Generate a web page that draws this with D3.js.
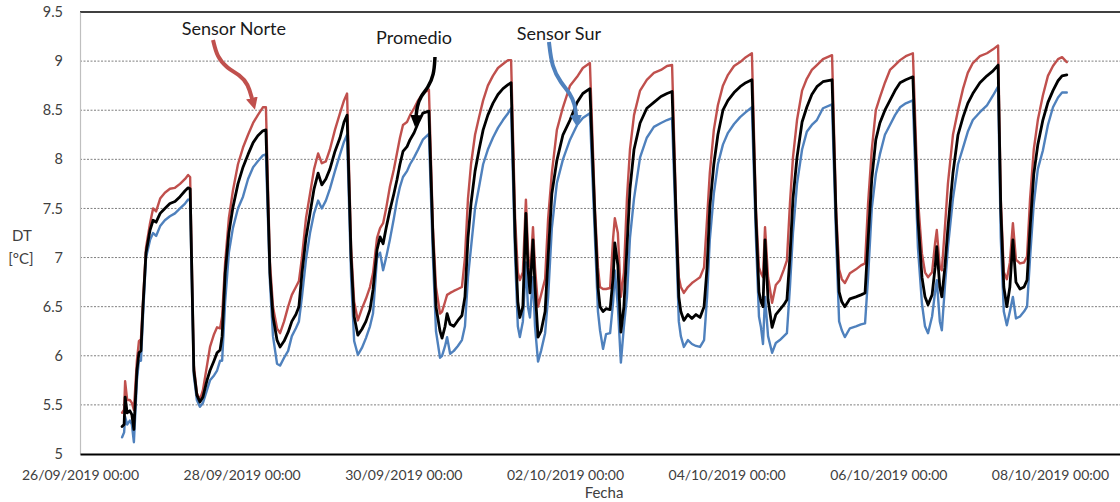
<!DOCTYPE html>
<html><head><meta charset="utf-8">
<script src="https://cdn.jsdelivr.net/npm/d3@7"></script>
<style>
html,body{margin:0;padding:0;background:#fff;}
svg{display:block;font-family:Lato,"Open Sans",sans-serif;}
</style></head><body>
<svg id="chart" width="1120" height="502"></svg>
<script>
// hours since 26/09/2019 00:00
const hours = [
12.5,13.1,13.4,14.0,14.8,15.4,16.0,16.9,17.5,18.1,18.7,19.6,20.8,21.7,22.6,23.8,25.2,26.7,28.2,29.7,31.2,32.1,32.7,
33.8,34.7,35.6,36.5,37.7,38.6,39.8,40.7,41.6,42.2,43.1,44.2,45.4,46.9,48.4,49.9,51.4,52.8,54.3,55.2,
56.4,57.3,58.5,59.4,60.6,61.8,62.9,64.1,65.0,65.9,67.1,68.3,69.5,70.7,71.8,73.0,74.2,75.7,77.2,78.4,79.3,
80.5,81.4,82.5,83.7,84.9,86.1,87.0,88.2,89.1,90.0,90.9,92.0,93.2,94.1,95.0,95.9,97.1,98.0,99.2,100.4,101.8,103.6,
104.8,105.7,106.9,107.5,108.4,109.0,109.9,111.0,112.2,113.4,114.3,115.2,116.1,117.3,118.5,119.7,121.1,122.6,124.1,125.6,127.1,128.0,
129.2,130.0,130.6,131.5,132.4,133.0,133.6,134.5,135.1,136.0,136.9,138.1,139.0,140.1,141.6,143.4,145.5,147.6,149.3,151.4,
152.9,153.8,154.4,155.3,156.2,157.4,158.3,158.8,159.7,160.6,161.5,162.4,163.3,164.5,166.3,168.3,170.4,172.5,174.3,175.8,
177.0,177.8,178.4,179.3,180.5,181.7,182.9,184.1,185.3,186.2,187.0,188.2,189.4,190.9,192.4,194.2,196.0,197.7,199.5,
200.7,201.6,202.2,202.8,203.4,204.3,205.5,206.6,207.8,209.0,209.9,210.8,211.7,212.9,214.4,215.8,217.3,218.8,220.6,223.3,
224.5,225.4,226.2,227.1,228.6,230.4,231.9,233.1,234.0,235.1,236.3,237.5,239.0,240.5,242.0,243.5,245.2,247.3,
248.8,250.0,250.9,251.8,253.0,253.9,254.4,255.3,255.9,256.8,257.7,259.2,260.7,262.2,263.6,265.1,267.2,269.3,271.1,272.6,
273.4,274.3,275.2,276.1,277.0,277.9,279.1,280.3,281.2,282.1,283.2,284.4,285.9,287.4,288.9,290.4,291.6,293.0
];
const norte = [
5.42,5.45,5.74,5.55,5.55,5.52,5.45,5.95,6.15,6.17,6.55,7.10,7.35,7.50,7.47,7.60,7.66,7.70,7.71,7.75,7.80,7.84,7.82,
5.90,5.62,5.55,5.65,5.90,6.09,6.22,6.29,6.28,6.40,6.95,7.40,7.68,7.95,8.12,8.25,8.37,8.45,8.53,8.53,
6.95,6.50,6.28,6.23,6.35,6.50,6.62,6.70,6.76,7.00,7.40,7.65,7.90,8.06,7.96,7.98,8.10,8.30,8.47,8.60,8.67,
7.10,6.55,6.36,6.48,6.58,6.70,6.84,7.20,7.30,7.35,7.50,7.72,7.90,8.06,8.22,8.35,8.38,8.45,8.52,8.60,8.67,8.71,
7.30,6.70,6.43,6.45,6.55,6.62,6.64,6.66,6.68,6.70,7.00,7.60,7.95,8.25,8.43,8.60,8.75,8.85,8.93,8.97,9.01,9.01,
7.40,6.85,6.77,6.85,7.59,7.10,6.77,7.31,6.90,6.50,6.62,6.78,7.40,7.86,8.30,8.53,8.75,8.84,8.93,8.98,
7.50,6.90,6.70,6.68,6.68,6.69,7.20,7.40,7.25,6.60,6.85,7.60,8.10,8.45,8.70,8.81,8.88,8.91,8.95,8.96,
7.50,6.80,6.70,6.64,6.70,6.74,6.77,6.80,6.90,7.40,7.86,8.30,8.55,8.75,8.86,8.95,8.99,9.04,9.08,
7.50,6.90,6.84,6.80,7.31,6.80,6.54,6.72,6.77,6.88,6.97,7.55,8.02,8.40,8.70,8.82,8.91,8.96,9.02,9.06,
7.50,6.88,6.78,6.74,6.84,6.88,6.92,6.94,7.55,8.10,8.50,8.63,8.78,8.91,8.96,9.01,9.05,9.08,
7.60,7.04,6.85,6.80,6.85,7.15,7.28,6.90,6.87,7.30,7.75,8.25,8.50,8.72,8.88,8.98,9.05,9.08,9.12,9.16,
7.60,6.85,6.78,6.95,7.35,6.98,6.94,6.95,7.01,7.60,8.10,8.40,8.65,8.85,8.95,9.02,9.04,8.99
];
const promedio = [
5.28,5.30,5.58,5.42,5.44,5.40,5.25,5.85,6.03,6.05,6.50,7.05,7.28,7.38,7.36,7.45,7.50,7.55,7.57,7.62,7.68,7.71,7.70,
5.85,5.60,5.53,5.58,5.75,5.85,5.95,6.03,6.06,6.20,6.84,7.25,7.51,7.75,7.92,8.05,8.17,8.24,8.29,8.30,
6.84,6.40,6.16,6.09,6.15,6.24,6.35,6.42,6.50,6.84,7.20,7.45,7.70,7.86,7.74,7.80,7.90,8.08,8.22,8.38,8.45,
7.00,6.40,6.21,6.27,6.35,6.47,6.67,7.08,7.21,7.14,7.30,7.48,7.65,7.79,7.95,8.08,8.13,8.20,8.27,8.37,8.47,8.49,
7.20,6.50,6.25,6.18,6.30,6.43,6.32,6.30,6.36,6.41,6.60,7.20,7.55,7.88,8.10,8.30,8.45,8.57,8.66,8.72,8.76,8.78,
7.20,6.55,6.39,6.50,7.45,6.90,6.64,7.18,6.70,6.19,6.25,6.45,7.01,7.65,7.99,8.25,8.40,8.58,8.67,8.72,
7.40,6.70,6.50,6.45,6.48,6.47,6.80,7.15,6.92,6.24,6.50,7.10,7.70,8.10,8.37,8.52,8.58,8.64,8.67,8.69,
7.40,6.60,6.45,6.36,6.42,6.38,6.42,6.39,6.50,6.90,7.51,7.95,8.25,8.50,8.60,8.68,8.74,8.78,8.81,
7.40,6.65,6.55,6.50,7.18,6.57,6.29,6.42,6.47,6.52,6.57,7.01,7.60,8.02,8.38,8.53,8.66,8.74,8.79,8.81,
7.40,6.65,6.55,6.50,6.58,6.60,6.62,6.64,7.18,7.80,8.20,8.37,8.50,8.60,8.70,8.78,8.81,8.84,
7.40,6.80,6.60,6.52,6.62,6.90,7.11,6.70,6.60,6.90,7.30,7.86,8.25,8.43,8.57,8.67,8.78,8.85,8.90,8.96,
7.50,6.70,6.50,6.70,7.18,6.75,6.68,6.70,6.77,7.30,7.85,8.15,8.40,8.58,8.70,8.80,8.85,8.86
];
const sur = [
5.17,5.22,5.38,5.30,5.34,5.30,5.12,5.75,5.95,5.95,6.40,7.00,7.18,7.25,7.22,7.32,7.38,7.42,7.45,7.50,7.55,7.59,7.58,
5.80,5.55,5.48,5.52,5.65,5.75,5.80,5.85,5.95,5.95,6.55,7.05,7.30,7.50,7.62,7.80,7.92,7.98,8.04,8.05,
6.75,6.20,5.92,5.90,5.98,6.05,6.20,6.28,6.35,6.60,6.98,7.25,7.45,7.58,7.50,7.58,7.70,7.88,8.05,8.18,8.25,
6.80,6.15,6.01,6.08,6.18,6.30,6.43,7.00,7.05,6.87,7.00,7.18,7.40,7.58,7.72,7.82,7.88,7.95,8.02,8.10,8.20,8.26,
7.00,6.25,5.98,6.00,6.10,6.19,6.02,6.05,6.10,6.16,6.30,6.80,7.10,7.50,7.72,7.95,8.10,8.22,8.32,8.40,8.47,8.52,
7.00,6.30,6.19,6.35,6.95,6.50,6.39,6.80,6.30,5.94,6.05,6.23,6.60,7.30,7.76,8.00,8.20,8.35,8.42,8.47,
7.20,6.45,6.26,6.07,6.22,6.23,6.55,6.87,6.50,5.93,6.30,6.60,7.20,7.60,8.02,8.22,8.33,8.37,8.40,8.42,
7.20,6.35,6.20,6.09,6.16,6.12,6.10,6.09,6.16,6.60,7.18,7.65,7.95,8.15,8.27,8.36,8.43,8.48,8.53,
7.20,6.40,6.29,6.12,6.60,6.20,6.03,6.13,6.16,6.20,6.23,6.70,7.25,7.75,8.10,8.28,8.35,8.40,8.52,8.56,
7.20,6.35,6.26,6.19,6.28,6.30,6.32,6.33,6.80,7.50,7.85,8.05,8.25,8.35,8.45,8.53,8.57,8.60,
7.10,6.53,6.30,6.23,6.40,6.65,6.77,6.35,6.26,6.70,7.10,7.60,7.95,8.12,8.28,8.40,8.48,8.55,8.65,8.74,
7.20,6.45,6.31,6.45,6.60,6.38,6.40,6.45,6.50,7.00,7.55,7.90,8.09,8.35,8.53,8.63,8.68,8.68
];
const xTickDates = ["2019-09-26","2019-09-28","2019-09-30","2019-10-02","2019-10-04","2019-10-06","2019-10-08"];
const yTickValues = [5,5.5,6,6.5,7,7.5,8,8.5,9,9.5];
const xDomain = ["2019-09-26T00:00:00Z","2019-10-08T20:48:00Z"];
const yDomain = [5, 9.5];

// annotations (positions in data units: hours, °C)
const annotations = [
  {label:"Sensor Norte", color:"#C0504D", width:4, text:[45.7,9.266],
   path:[[39.5,9.215],[40.7,9.042],[43.6,8.930],[47.5,8.858],[49.9,8.767],[51.1,8.614]]},
  {label:"Promedio", color:"#000000", width:3.5, text:[99.2,9.174],
   path:[[105.4,9.042],[105.1,8.858],[103.3,8.726],[101.2,8.645],[100.1,8.543],[99.8,8.441]]},
  {label:"Sensor Sur", color:"#4F81BD", width:4, text:[142.2,9.215],
   path:[[139.25,9.195],[140.1,8.940],[142.8,8.777],[145.5,8.675],[147.0,8.553],[147.3,8.441]]}
];

(function(){
const t0 = Date.UTC(2019,8,26,0,0);
const toDate = h => new Date(t0 + h*3600e3);

const svg = d3.select("#chart");
const mLeft = 80, mRight = 1120, mTop = 12, mBottom = 454;
const x = d3.scaleUtc().domain(xDomain.map(d=>new Date(d))).range([mLeft,mRight]);
const y = d3.scaleLinear().domain(yDomain).range([mBottom,mTop]);

// gridlines
svg.append("g").selectAll("line").data(yTickValues.filter(v=>v>5 && v<9.5)).join("line")
  .attr("x1",mLeft).attr("x2",mRight).attr("y1",d=>y(d)).attr("y2",d=>y(d))
  .attr("stroke","#7f7f7f").attr("stroke-width",1).attr("stroke-dasharray","2,1.5");
// top line (9.5)
svg.append("line").attr("x1",mLeft).attr("x2",mRight).attr("y1",y(9.5)).attr("y2",y(9.5))
  .attr("stroke","#000").attr("stroke-width",1.4);

// y axis
const yAxis = d3.axisLeft(y).tickValues(yTickValues).tickSize(0).tickPadding(17).tickFormat(d3.format(""));
const gy = svg.append("g").attr("transform",`translate(${mLeft},0)`).call(yAxis);
gy.select(".domain").attr("stroke","#bfbfbf").attr("stroke-width",1.2);
gy.selectAll("text").attr("font-size",14.5).attr("fill","#404040").attr("font-family","Lato");

// x axis
const xAxis = d3.axisBottom(x).tickValues(xTickDates.map(d=>new Date(d+"T00:00:00Z")))
  .tickSize(0).tickPadding(16).tickFormat(d3.utcFormat("%d/%m/%Y %H:%M"));
const gx = svg.append("g").attr("transform",`translate(0,${mBottom})`).call(xAxis);
gx.select(".domain").attr("stroke","#000").attr("stroke-width",2);
gx.selectAll("text").attr("font-size",14).attr("fill","#404040").attr("font-family","Lato");

// axis titles
svg.append("text").attr("x",22).attr("y",241).attr("text-anchor","middle")
  .attr("font-size",15).attr("fill","#404040").text("DT");
svg.append("text").attr("x",21).attr("y",264).attr("text-anchor","middle")
  .attr("font-size",15).attr("fill","#404040").text("[°C]");
svg.append("text").attr("x",604).attr("y",498).attr("text-anchor","middle")
  .attr("font-size",15).attr("fill","#404040").text("Fecha");

// series
const series = [
  {name:"Sensor Norte", values:norte, color:"#C0504D", width:2.4},
  {name:"Sensor Sur", values:sur, color:"#4F81BD", width:2.4},
  {name:"Promedio", values:promedio, color:"#000000", width:2.8}
];
const line = d3.line().x(d=>x(d[0])).y(d=>y(d[1]));
series.forEach(s=>{
  const pts = hours.map((h,i)=>[toDate(h), s.values[i]]);
  svg.append("path").datum(pts).attr("d",line)
    .attr("fill","none").attr("stroke",s.color).attr("stroke-width",s.width)
    .attr("stroke-linejoin","round").attr("stroke-linecap","round");
});

// annotations
const defs = svg.append("defs");
const aLine = d3.line().x(d=>x(toDate(d[0]))).y(d=>y(d[1])).curve(d3.curveBasis);
annotations.forEach((a,i)=>{
  defs.append("marker").attr("id","arr"+i).attr("viewBox","0 0 12 12")
    .attr("refX",1).attr("refY",6).attr("markerUnits","userSpaceOnUse")
    .attr("markerWidth",12).attr("markerHeight",12).attr("orient","auto")
    .append("path").attr("d","M0,0 L12,6 L0,12 z").attr("fill",a.color);
  svg.append("path").datum(a.path).attr("d",aLine).attr("fill","none")
    .attr("stroke",a.color).attr("stroke-width",a.width).attr("marker-end",`url(#arr${i})`);
  svg.append("text").attr("x",x(toDate(a.text[0]))).attr("y",y(a.text[1]))
    .attr("text-anchor","middle").attr("font-size",18).attr("fill","#1a1a1a").text(a.label);
});
})();
</script>
</body></html>
